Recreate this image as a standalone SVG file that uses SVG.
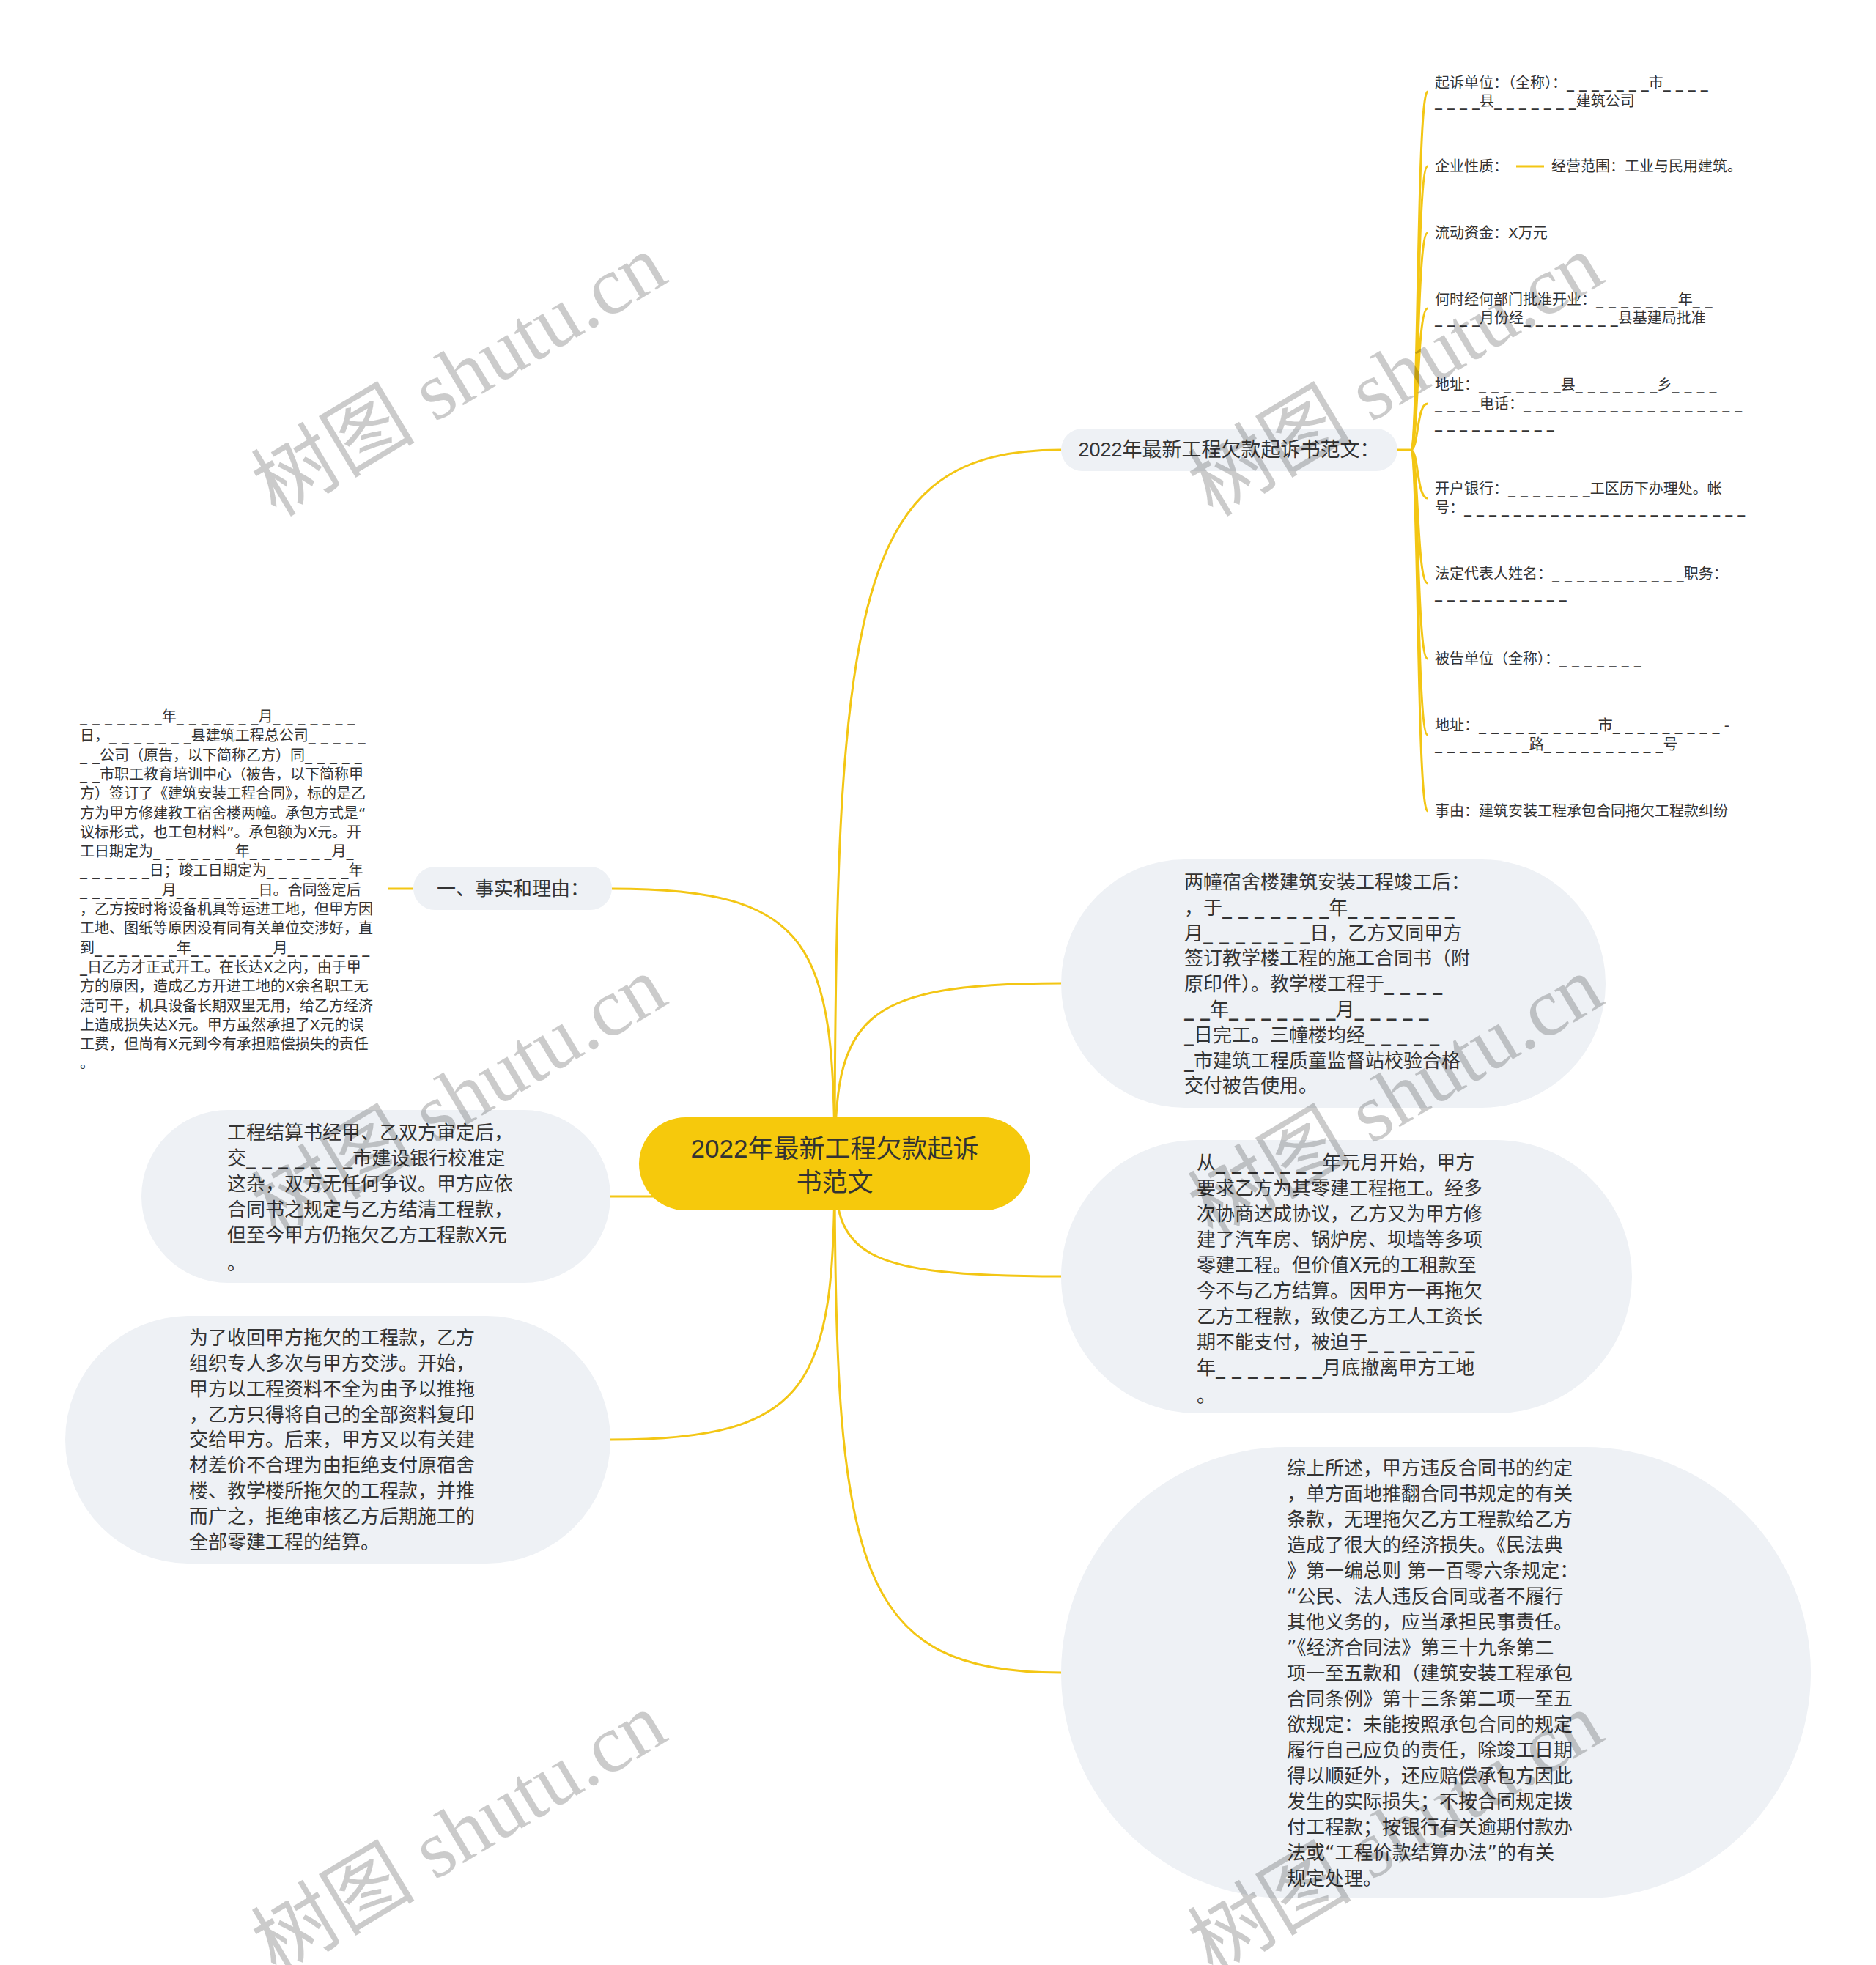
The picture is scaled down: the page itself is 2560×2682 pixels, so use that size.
<svg xmlns="http://www.w3.org/2000/svg" width="2560" height="2682" viewBox="0 0 2560 2682">
<style>
text{font-family:'Liberation Sans','Noto Sans CJK SC',sans-serif;fill:#333;dominant-baseline:central}
.leaf,.bub,.lft{font-family:'DejaVu Sans','Noto Sans CJK SC',sans-serif}
.leaf{font-size:20px}
.bub{font-size:26px}
.lft{font-size:20px}
.d{font-weight:bold}
.br{font-size:27px}
.ctr{font-size:35px;fill:#333}
.bubble{fill:#eef1f5}
.con{fill:none;stroke:#f3c614;stroke-width:3}
.wm{font-family:'Liberation Serif','Noto Sans CJK SC',serif;font-size:112px;fill:#000;opacity:.2;dominant-baseline:auto}
</style>
<rect width="2560" height="2682" fill="#fff"/>
<g id="connectors" class="con">
<path d="M1139,1589 C1139,809 1170,614 1448,614"/>
<path d="M1139,1589 C1139,1391 1170,1342 1448,1342"/>
<path d="M1139,1589 C1139,1711 1170,1742 1448,1742"/>
<path d="M1139,1589 C1139,2144 1170,2283 1448,2283"/>
<path d="M1139,1589 C1139,1288 1109,1213 835,1213"/>
<path d="M900,1633 L833,1633"/>
<path d="M1139,1589 C1139,1890 1108,1965 833,1965"/>
<path d="M564,1213 L530,1213"/>
<path d="M1907,614 L1925,614"/>
<path d="M1925,614 C1936,614 1933,125 1948,125"/>
<path d="M1925,614 C1936,614 1933,227 1948,227"/>
<path d="M1925,614 C1936,614 1933,318 1948,318"/>
<path d="M1925,614 C1936,614 1933,421 1948,421"/>
<path d="M1925,614 C1936,614 1933,551 1948,551"/>
<path d="M1925,614 C1936,614 1933,680 1948,680"/>
<path d="M1925,614 C1936,614 1933,796 1948,796"/>
<path d="M1925,614 C1936,614 1933,899 1948,899"/>
<path d="M1925,614 C1936,614 1933,1003 1948,1003"/>
<path d="M1925,614 C1936,614 1933,1107 1948,1107"/>
<path d="M2069,227 L2107,227"/>
</g>
<g id="center">
<rect x="872" y="1525" width="534" height="127" rx="63.5" fill="#f6c90c"/>
<text class="ctr" text-anchor="middle"><tspan x="1139" y="1567">2022年最新工程欠款起诉</tspan><tspan x="1139" y="1613">书范文</tspan></text>
</g>
<g id="branch-main">
<rect x="1448" y="585" width="459" height="58" rx="29" class="bubble"/>
<text class="br" x="1677" y="614" text-anchor="middle">2022年最新工程欠款起诉书范文：</text>
</g>
<g id="leaf-1"><text class="leaf"><tspan x="1958" y="113">起诉单位：（全称）：<tspan class="d">_ _ _ _ _ _ _</tspan>市<tspan class="d">_ _ _ _</tspan></tspan><tspan x="1958" y="138"><tspan class="d">_ _ _ _</tspan>县<tspan class="d">_ _ _ _ _ _ _</tspan>建筑公司</tspan></text></g>
<g id="leaf-2"><text class="leaf" x="1958" y="227">企业性质：</text></g>
<g id="leaf-2-1"><text class="leaf" x="2117" y="227">经营范围：工业与民用建筑。</text></g>
<g id="leaf-3"><text class="leaf" x="1958" y="318">流动资金：X万元</text></g>
<g id="leaf-4"><text class="leaf"><tspan x="1958" y="409">何时经何部门批准开业：<tspan class="d">_ _ _ _ _ _ _</tspan>年<tspan class="d">_ _</tspan></tspan><tspan x="1958" y="434"><tspan class="d">_ _ _ _</tspan>月份经<tspan class="d">_ _ _ _ _ _ _ _</tspan>县基建局批准</tspan></text></g>
<g id="leaf-5"><text class="leaf"><tspan x="1958" y="525">地址：<tspan class="d">_ _ _ _ _ _ _</tspan>县<tspan class="d">_ _ _ _ _ _ _</tspan>乡<tspan class="d">_ _ _ _</tspan></tspan><tspan x="1958" y="551"><tspan class="d">_ _ _ _</tspan>电话：<tspan class="d">_ _ _ _ _ _ _ _ _ _ _ _ _ _ _ _ _ _</tspan></tspan><tspan x="1958" y="577" class="d">_ _ _ _ _ _ _ _ _ _</tspan></text></g>
<g id="leaf-6"><text class="leaf"><tspan x="1958" y="667">开户银行：<tspan class="d">_ _ _ _ _ _ _</tspan>工区历下办理处。帐</tspan><tspan x="1958" y="693">号：<tspan class="d">_ _ _ _ _ _ _ _ _ _ _ _ _ _ _ _ _ _ _ _ _ _ _</tspan></tspan></text></g>
<g id="leaf-7"><text class="leaf"><tspan x="1958" y="783">法定代表人姓名：<tspan class="d">_ _ _ _ _ _ _ _ _ _ _</tspan>职务：</tspan><tspan x="1958" y="809" class="d">_ _ _ _ _ _ _ _ _ _ _</tspan></text></g>
<g id="leaf-8"><text class="leaf" x="1958" y="899">被告单位（全称）：<tspan class="d">_ _ _ _ _ _ _</tspan></text></g>
<g id="leaf-9"><text class="leaf"><tspan x="1958" y="990">地址：<tspan class="d">_ _ _ _ _ _ _ _ _ _</tspan>市<tspan class="d">_ _ _ _ _ _ _ _ _</tspan> -</tspan><tspan x="1958" y="1016"><tspan class="d">_ _ _ _ _ _ _ _</tspan>路<tspan class="d">_ _ _ _ _ _ _ _ _ _</tspan>号</tspan></text></g>
<g id="leaf-10"><text class="leaf" x="1958" y="1107">事由：建筑安装工程承包合同拖欠工程款纠纷</text></g>
<g id="bubble-a">
<rect x="1448" y="1173" width="743" height="339" rx="169" class="bubble"/>
<text class="bub">
<tspan x="1616" y="1204">两幢宿舍楼建筑安装工程竣工后：</tspan>
<tspan x="1616" y="1239">，于<tspan class="d">_ _ _ _ _ _ _</tspan>年<tspan class="d">_ _ _ _ _ _ _</tspan></tspan>
<tspan x="1616" y="1274">月<tspan class="d">_ _ _ _ _ _ _</tspan>日，乙方又同甲方</tspan>
<tspan x="1616" y="1308">签订教学楼工程的施工合同书（附</tspan>
<tspan x="1616" y="1343">原印件）。教学楼工程于<tspan class="d">_ _ _ _</tspan></tspan>
<tspan x="1616" y="1378"><tspan class="d">_ _</tspan>年<tspan class="d">_ _ _ _ _ _ _</tspan>月<tspan class="d">_ _ _ _ _</tspan></tspan>
<tspan x="1616" y="1413"><tspan class="d">_</tspan>日完工。三幢楼均经<tspan class="d">_ _ _ _ _</tspan></tspan>
<tspan x="1616" y="1448"><tspan class="d">_</tspan>市建筑工程质童监督站校验合格</tspan>
<tspan x="1616" y="1482">交付被告使用。</tspan>
</text>
</g>
<g id="bubble-b">
<rect x="1448" y="1556" width="779" height="373" rx="186" class="bubble"/>
<text class="bub">
<tspan x="1633" y="1587">从<tspan class="d">_ _ _ _ _ _ _</tspan>年元月开始，甲方</tspan>
<tspan x="1633" y="1622">要求乙方为其零建工程拖工。经多</tspan>
<tspan x="1633" y="1657">次协商达成协议，乙方又为甲方修</tspan>
<tspan x="1633" y="1692">建了汽车房、锅炉房、坝墙等多项</tspan>
<tspan x="1633" y="1727">零建工程。但价值X元的工租款至</tspan>
<tspan x="1633" y="1762">今不与乙方结算。因甲方一再拖欠</tspan>
<tspan x="1633" y="1797">乙方工程款，致使乙方工人工资长</tspan>
<tspan x="1633" y="1832">期不能支付，被迫于<tspan class="d">_ _ _ _ _ _ _</tspan></tspan>
<tspan x="1633" y="1867">年<tspan class="d">_ _ _ _ _ _ _</tspan>月底撤离甲方工地</tspan>
<tspan x="1633" y="1905">。</tspan>
</text>
</g>
<g id="bubble-c">
<rect x="1448" y="1975" width="1023" height="616" rx="308" class="bubble"/>
<text class="bub">
<tspan x="1756" y="2004">综上所述，甲方违反合同书的约定</tspan>
<tspan x="1756" y="2039">，单方面地推翻合同书规定的有关</tspan>
<tspan x="1756" y="2074">条款，无理拖欠乙方工程款给乙方</tspan>
<tspan x="1756" y="2109">造成了很大的经济损失。《民法典</tspan>
<tspan x="1756" y="2144">》第一编总则 第一百零六条规定：</tspan>
<tspan x="1756" y="2179">“公民、法人违反合同或者不履行</tspan>
<tspan x="1756" y="2214">其他义务的，应当承担民事责任。</tspan>
<tspan x="1756" y="2249">”《经济合同法》第三十九条第二</tspan>
<tspan x="1756" y="2284">项一至五款和（建筑安装工程承包</tspan>
<tspan x="1756" y="2319">合同条例》第十三条第二项一至五</tspan>
<tspan x="1756" y="2354">欲规定：未能按照承包合同的规定</tspan>
<tspan x="1756" y="2389">履行自己应负的责任，除竣工日期</tspan>
<tspan x="1756" y="2424">得以顺延外，还应赔偿承包方因此</tspan>
<tspan x="1756" y="2459">发生的实际损失；不按合同规定拨</tspan>
<tspan x="1756" y="2494">付工程款；按银行有关逾期付款办</tspan>
<tspan x="1756" y="2529">法或“工程价款结算办法”的有关</tspan>
<tspan x="1756" y="2564">规定处理。</tspan>
</text>
</g>
<g id="branch-left">
<rect x="564" y="1183" width="271" height="59" rx="29.5" class="bubble"/>
<text class="br" x="700" y="1213" text-anchor="middle" style="font-size:26px">一、事实和理由：</text>
</g>
<g id="left-text">
<text class="lft">
<tspan x="109" y="978"><tspan class="d">_ _ _ _ _ _ _</tspan>年<tspan class="d">_ _ _ _ _ _ _</tspan>月<tspan class="d">_ _ _ _ _ _ _</tspan></tspan>
<tspan x="109" y="1004">日，<tspan class="d">_ _ _ _ _ _ _</tspan>县建筑工程总公司<tspan class="d">_ _ _ _ _</tspan></tspan>
<tspan x="109" y="1031"><tspan class="d">_ _</tspan>公司（原告，以下简称乙方）同<tspan class="d">_ _ _ _ _</tspan></tspan>
<tspan x="109" y="1057"><tspan class="d">_ _</tspan>市职工教育培训中心（被告，以下简称甲</tspan>
<tspan x="109" y="1083">方）签订了《建筑安装工程合同》，标的是乙</tspan>
<tspan x="109" y="1110">方为甲方修建教工宿舍楼两幢。承包方式是“</tspan>
<tspan x="109" y="1136">议标形式，也工包材料”。承包额为X元。开</tspan>
<tspan x="109" y="1162">工日期定为<tspan class="d">_ _ _ _ _ _ _</tspan>年<tspan class="d">_ _ _ _ _ _ _</tspan>月<tspan class="d">_</tspan></tspan>
<tspan x="109" y="1188"><tspan class="d">_ _ _ _ _ _</tspan>日；竣工日期定为<tspan class="d">_ _ _ _ _ _ _</tspan>年</tspan>
<tspan x="109" y="1215"><tspan class="d">_ _ _ _ _ _ _</tspan>月<tspan class="d">_ _ _ _ _ _ _</tspan>日。合同签定后</tspan>
<tspan x="109" y="1241">，乙方按时将设备机具等运进工地，但甲方因</tspan>
<tspan x="109" y="1267">工地、图纸等原因没有同有关单位交涉好，直</tspan>
<tspan x="109" y="1294">到<tspan class="d">_ _ _ _ _ _ _</tspan>年<tspan class="d">_ _ _ _ _ _ _</tspan>月<tspan class="d">_ _ _ _ _ _ _</tspan></tspan>
<tspan x="109" y="1320"><tspan class="d">_</tspan>日乙方才正式开工。在长达X之内，由于甲</tspan>
<tspan x="109" y="1346">方的原因，造成乙方开进工地的X余名职工无</tspan>
<tspan x="109" y="1373">活可干，机具设备长期双里无用，给乙方经济</tspan>
<tspan x="109" y="1399">上造成损失达X元。甲方虽然承担了X元的误</tspan>
<tspan x="109" y="1425">工费，但尚有X元到今有承担赔偿损失的责任</tspan>
<tspan x="109" y="1451">。</tspan>
</text>
</g>
<g id="bubble-d">
<rect x="193" y="1515" width="640" height="236" rx="118" class="bubble"/>
<text class="bub">
<tspan x="310" y="1546">工程结算书经甲、乙双方审定后，</tspan>
<tspan x="310" y="1581">交<tspan class="d">_ _ _ _ _ _ _</tspan>市建设银行校准定</tspan>
<tspan x="310" y="1616">这杂，双方无任何争议。甲方应依</tspan>
<tspan x="310" y="1651">合同书之规定与乙方结清工程款，</tspan>
<tspan x="310" y="1686">但至今甲方仍拖欠乙方工程款X元</tspan>
<tspan x="310" y="1724">。</tspan>
</text>
</g>
<g id="bubble-e">
<rect x="89" y="1796" width="744" height="338" rx="169" class="bubble"/>
<text class="bub">
<tspan x="258" y="1826">为了收回甲方拖欠的工程款，乙方</tspan>
<tspan x="258" y="1861">组织专人多次与甲方交涉。开始，</tspan>
<tspan x="258" y="1896">甲方以工程资料不全为由予以推拖</tspan>
<tspan x="258" y="1931">，乙方只得将自己的全部资料复印</tspan>
<tspan x="258" y="1965">交给甲方。后来，甲方又以有关建</tspan>
<tspan x="258" y="2000">材差价不合理为由拒绝支付原宿舍</tspan>
<tspan x="258" y="2035">楼、教学楼所拖欠的工程款，并推</tspan>
<tspan x="258" y="2070">而广之，拒绝审核乙方后期施工的</tspan>
<tspan x="258" y="2105">全部零建工程的结算。</tspan>
</text>
</g>
<g id="watermarks">
<text class="wm" text-anchor="middle" transform="translate(646,545) rotate(-31)">树图 shutu.cn</text>
<text class="wm" text-anchor="middle" transform="translate(1924,545) rotate(-31)">树图 shutu.cn</text>
<text class="wm" text-anchor="middle" transform="translate(646,1530) rotate(-31)">树图 shutu.cn</text>
<text class="wm" text-anchor="middle" transform="translate(1924,1530) rotate(-31)">树图 shutu.cn</text>
<text class="wm" text-anchor="middle" transform="translate(646,2535) rotate(-31)">树图 shutu.cn</text>
<text class="wm" text-anchor="middle" transform="translate(1924,2535) rotate(-31)">树图 shutu.cn</text>
</g>
</svg>
